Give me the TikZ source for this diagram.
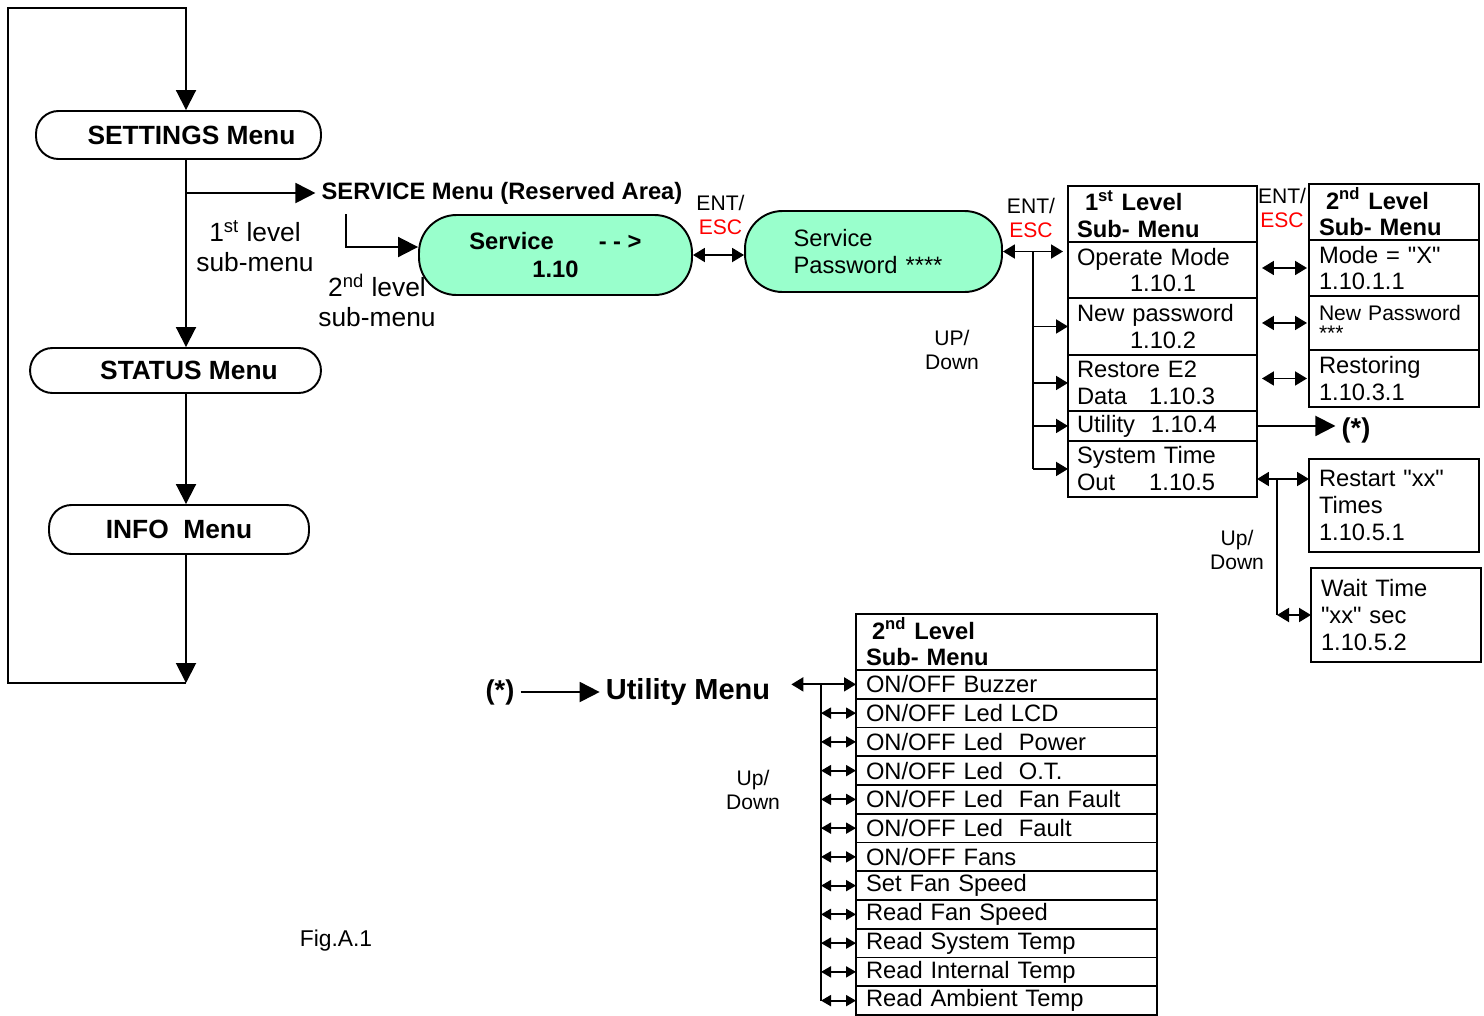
\documentclass[tikz,border=0pt]{standalone}
\usepackage{fontspec}
\setmainfont{Liberation Sans}[Ligatures=TeXOff]
\usepackage{xcolor}
\usepackage{tikz}
\usetikzlibrary{arrows.meta, positioning}
\definecolor{ovalgreen}{HTML}{99FFCC}
\definecolor{escred}{HTML}{FF0000}

\begin{document}
\begin{tikzpicture}[
    x=0.02cm, y=-0.02cm,
    menu/.style={rectangle, draw=black, line width=1.1pt, rounded corners=0.45cm, inner sep=0pt, font=\bfseries\fontsize{15}{18}\selectfont},
    oval/.style={rectangle, draw=black, line width=1.1pt, fill=ovalgreen, rounded corners=0.75cm, minimum height=1.6cm, font=\fontsize{13.5}{15.3}\selectfont},
    cell/.style={rectangle, draw=black, line width=1.1pt, outer sep=0pt, anchor=north west, align=left, inner xsep=0.18cm, inner ysep=0pt, font=\fontsize{13.5}{15.3}\selectfont},
    lvla/.style={cell, minimum width=3.78cm, text width=3.42cm},
    lvlb/.style={cell, inner xsep=0.2cm, minimum width=3.4cm, text width=3.0cm},
    util/.style={cell, inner xsep=0.2cm, minimum width=6.02cm, text width=5.62cm},
    head/.style={minimum height=1.12cm, font=\bfseries\fontsize{13.5}{15.3}\selectfont},
    note/.style={align=center, font=\fontsize{12}{13.6}\selectfont},
    sublabel/.style={align=center, font=\fontsize{15}{17}\selectfont},
    arrow/.style={-{Triangle[length=0.4cm, width=0.4cm]}, line width=1.1pt},
    midarrow/.style={-{Triangle[length=0.24cm, width=0.28cm]}, line width=1.1pt},
    dblarrow/.style={{Triangle[length=0.24cm, width=0.28cm]}-{Triangle[length=0.24cm, width=0.28cm]}, line width=1.1pt},
    tinyarrow/.style={{Triangle[length=0.2cm, width=0.22cm]}-{Triangle[length=0.2cm, width=0.22cm]}, line width=1.1pt}
]
\useasboundingbox (0,0) rectangle (1484,1015);

% main menus
\node[menu, minimum width=5.7cm, minimum height=0.96cm] (settings) at (178.5,135) {\hspace*{0.52cm}SETTINGS Menu};
\node[menu, minimum width=5.82cm, minimum height=0.9cm] (status) at (175.5,370.5) {\hspace*{0.54cm}STATUS Menu};
\node[menu, minimum width=5.2cm, minimum height=0.98cm] (info) at (179,529.5) {INFO~~Menu};

\node[font=\bfseries\fontsize{13.5}{16}\selectfont] (servicemenu) at (502,193) {SERVICE Menu (Reserved Area)};
\node[sublabel] (sub1label) at (255,246) {1\textsuperscript{st} level\\sub-menu};
\node[sublabel] (sub2label) at (377,300) {2\textsuperscript{nd} level\\sub-menu};

% service ovals
\node[oval, minimum width=5.46cm, align=center, font=\bfseries\fontsize{13.5}{16}\selectfont] (service) at (555.5,255) {Service\hspace{0.9cm}- - >\\1.10};
\node[oval, minimum width=5.14cm, minimum height=1.62cm, text width=3.2cm, align=left] (password) at (873.5,251.5) {Service\\Password ****};

\node[note] (entesc1) at (720.5,215) {ENT/\\\textcolor{escred}{ESC}};
\node[note] (entesc2) at (1031,218) {ENT/\\\textcolor{escred}{ESC}};
\node[note] (entesc3) at (1282,208) {ENT/\\\textcolor{escred}{ESC}};
\node[note] (updown1) at (952,350) {UP/\\Down};
\node[note] (updown2) at (1237,550) {Up/\\Down};
\node[note] (updown3) at (753,790) {Up/\\Down};

% 1st level sub-menu
\node[lvla, head] (head1) at (1068,186) {\hspace*{0.16cm}1\textsuperscript{st} Level\\Sub- Menu};
\node[lvla, minimum height=1.12cm, below=0pt of head1] (opmode) {Operate Mode\\\hspace*{1.06cm}1.10.1};
\node[lvla, minimum height=1.14cm, below=0pt of opmode] (newpw) {New password\\\hspace*{1.06cm}1.10.2};
\node[lvla, minimum height=1.12cm, below=0pt of newpw] (restore) {Restore E2\\Data\hspace{0.44cm}1.10.3};
\node[lvla, minimum height=0.6cm, below=0pt of restore] (utility) {Utility\ \ 1.10.4};
\node[lvla, minimum height=1.12cm, below=0pt of utility] (systime) {System Time\\Out\hspace{0.68cm}1.10.5};

% 2nd level sub-menu
\node[lvlb, head] (head2) at (1309,184) {\hspace*{0.14cm}2\textsuperscript{nd} Level\\Sub- Menu};
\node[lvlb, minimum height=1.12cm, below=0pt of head2] (mode) {Mode = "X"\\1.10.1.1};
\node[lvlb, minimum height=1.08cm, below=0pt of mode, font=\fontsize{12}{11.3}\selectfont] (newpwset) {New Password\\****};
\node[lvlb, minimum height=1.14cm, below=0pt of newpwset] (restoring) {Restoring\\1.10.3.1};
\node[lvlb, minimum height=1.86cm] (restart) at (1309,459) {Restart "xx"\\Times\\1.10.5.1};
\node[lvlb, minimum height=1.88cm] (waittime) at (1311,568) {Wait Time\\"xx" sec\\1.10.5.2};

\node[font=\bfseries\fontsize{15.5}{18}\selectfont] (star1) at (1356,430) {(*)};

% utility menu
\node[font=\bfseries\fontsize{15.5}{18}\selectfont] (star2) at (500,692) {(*)};
\node[font=\bfseries\fontsize{16.5}{19}\selectfont] (utilmenu) at (688,692) {Utility Menu};
\node[util, head] (head3) at (856,614) {\hspace*{0.12cm}2\textsuperscript{nd} Level\\Sub- Menu};
\foreach \t [count=\i] in {{ON/OFF Buzzer}, {ON/OFF Led LCD}, {ON/OFF Led\ \ Power}, {ON/OFF Led\ \ O.T.},
    {ON/OFF Led\ \ Fan Fault}, {ON/OFF Led\ \ Fault}, {ON/OFF Fans}, {Set Fan Speed},
    {Read Fan Speed}, {Read System Temp}, {Read Internal Temp}, {Read Ambient Temp}}
  \node[util, minimum height=0.575cm] (urow\i) at (856,{670+(\i-1)*28.75}) {\t};

\node[font=\fontsize{13}{15}\selectfont] (figlabel) at (336,941) {Fig.A.1};

% connectors
\coordinate (spine) at (186,0);
\coordinate (looptop) at (8,8);
\coordinate (loopend) at (186,683);
\coordinate (sub2) at (346,214);
\coordinate (pwbranch) at (1033,251.5);
\coordinate (tbranch) at (1277,479);
\coordinate (ubranch) at (821,684.5);

\draw[arrow] (loopend) -| (looptop) -| (settings.north -| spine);
\draw[arrow] (settings.south -| spine) -- (status.north -| spine);
\draw[arrow] (status.south -| spine) -- (info.north -| spine);
\draw[arrow] (info.south -| spine) -- (loopend);
\draw[arrow] (spine |- servicemenu.west) -- (servicemenu.west);
\draw[arrow] (sub2) |- ([yshift=0.16cm]service.west);

\draw[dblarrow] (service.east) -- (service.east -| password.west);
\draw[dblarrow, shorten >=0.1cm] (password.east) -- (password.east -| opmode.west);
\draw[line width=1.1pt] (pwbranch) -- (pwbranch |- systime.west);
\foreach \r in {newpw, restore, utility, systime}
  \draw[midarrow] (pwbranch |- \r.west) -- (\r.west);

\draw[dblarrow, shorten <=0.1cm, shorten >=0.04cm] (mode.west -| opmode.east) -- (mode.west);
\draw[dblarrow, shorten <=0.1cm, shorten >=0.04cm] (newpwset.west -| newpw.east) -- (newpwset.west);
\draw[dblarrow, shorten <=0.1cm, shorten >=0.04cm] (restoring.west -| restore.east) -- (restoring.west);
\draw[arrow] (utility.east) -- (utility.east -| star1.west);

\draw[dblarrow] (systime.east |- tbranch) -- (restart.west |- tbranch);
\draw[line width=1.1pt] (tbranch) -- (tbranch |- waittime.west);
\draw[dblarrow] (tbranch |- waittime.west) -- (waittime.west);

\draw[arrow] (star2) -- (utilmenu);
\draw[dblarrow, shorten <=0.3cm] (urow1.west -| utilmenu.east) -- (urow1.west);
\draw[line width=1.1pt] (ubranch) -- (ubranch |- urow12.west);
\foreach \i in {2,...,12}
  \draw[tinyarrow] (ubranch |- urow\i.west) -- (urow\i.west);

\end{tikzpicture}
\end{document}
